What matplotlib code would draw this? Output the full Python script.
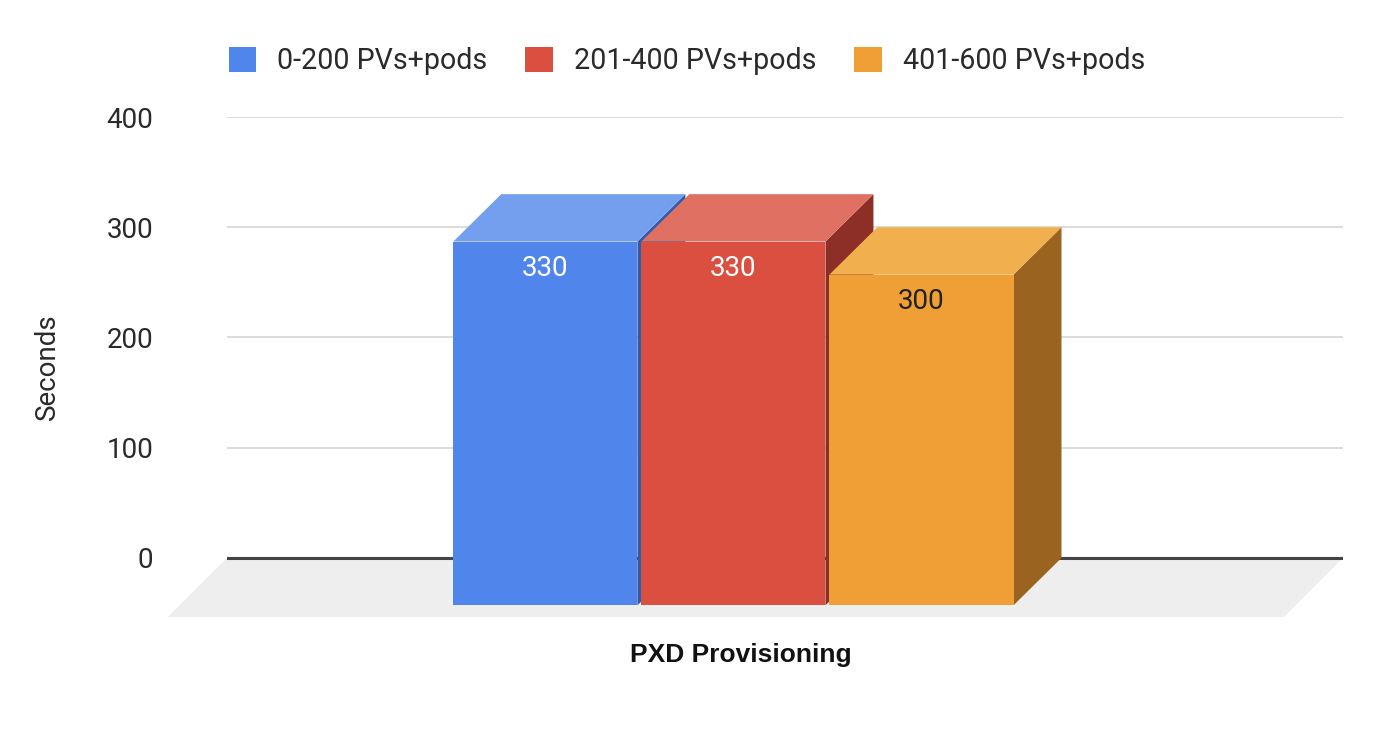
import matplotlib.pyplot as plt
from matplotlib.patches import Polygon, Patch

plt.rcParams['font.family'] = ['Roboto', 'DejaVu Sans']

CATEGORY = 'PXD Provisioning'
SERIES = ['0-200 PVs+pods', '201-400 PVs+pods', '401-600 PVs+pods']
VALUES = [330, 330, 300]
Y_TICKS = [0, 100, 200, 300, 400]

FRONT = ['#5086EC', '#DA4F3F', '#F09F36']
TOP = ['#749EEE', '#E07062', '#F1AF4D']
SIDE = ['#2F5BAA', '#8D2F26', '#9A6420']
LABEL_COLORS = ['white', 'white', '#222222']

# fake 3d geometry (data units)
BAR_W = 0.33
STEP = 0.337
DEPTH_X = 0.086
DEPTH_Y = 43.0
FLOOR_X = 0.106
FLOOR_Y = 53.6
FS = 20


def bar3d(ax, x0, value, i):
    """back face sits on the gridline plane, front face is shifted down-left"""
    fx0, fx1 = x0 - DEPTH_X, x0 - DEPTH_X + BAR_W
    fy0, fy1 = -DEPTH_Y, value - DEPTH_Y
    bx1 = x0 + BAR_W
    side = [(fx1, fy0), (fx1, fy1), (bx1, value), (bx1, 0)]
    top = [(fx0, fy1), (fx1, fy1), (bx1, value), (x0, value)]
    ax.add_patch(Polygon(side, closed=True, facecolor=SIDE[i], edgecolor='none', zorder=3))
    ax.add_patch(Polygon(top, closed=True, facecolor=TOP[i], edgecolor='none', zorder=3))
    ax.bar(fx0, value, bottom=fy0, width=BAR_W, align='edge', color=FRONT[i], zorder=3)
    ax.annotate(str(value), (fx0 + BAR_W / 2, fy1), xytext=(0, -19.5), textcoords='offset points',
                ha='center', va='center', fontsize=FS, color=LABEL_COLORS[i], zorder=5)


def main():
    fig = plt.figure(figsize=(14, 7.3), dpi=100)
    ax = fig.add_axes([227 / 1400, 1 - 617 / 730, 1116 / 1400, 500 / 730])
    ax.set_xlim(-1, 1)
    ax.set_ylim(-FLOOR_Y, 400)

    floor = [(-1, 0), (1, 0), (1 - FLOOR_X, -FLOOR_Y), (-1 - FLOOR_X, -FLOOR_Y)]
    ax.add_patch(Polygon(floor, closed=True, facecolor='#EEEEEE', edgecolor='none',
                         zorder=0, clip_on=False))

    for t in Y_TICKS[1:]:
        ax.axhline(t, color='#D6D6D6', lw=1.2, zorder=1)
    ax.axhline(0, color='#444444', lw=2.2, zorder=2)

    n = len(VALUES)
    for i, v in enumerate(VALUES):
        x0 = (i - n / 2) * STEP - 0.003
        bar3d(ax, x0, v, i)

    ax.set_yticks(Y_TICKS)
    ax.set_yticklabels([str(t) for t in Y_TICKS], fontsize=FS, color='#2a2a2a')
    ax.tick_params(axis='y', length=0, pad=53)
    ax.set_xticks([])
    for s in ax.spines.values():
        s.set_visible(False)

    fig.text(47 / 1400, 1 - 367 / 730, 'Seconds', rotation=90, ha='center', va='center',
             fontsize=FS, color='#2a2a2a')
    fig.text(741 / 1400, 1 - 655 / 730, CATEGORY, ha='center', va='center',
             fontsize=19, fontweight='bold', color='#111111',
             family=['Liberation Sans', 'DejaVu Sans'])

    handles = [Patch(facecolor=FRONT[i], edgecolor='none') for i in range(n)]
    fig.legend(handles, SERIES, loc='center', bbox_to_anchor=(687 / 1400, 1 - 61 / 730),
               ncol=3, frameon=False, fontsize=20.6, handlelength=0.95, handleheight=0.95,
               handletextpad=0.75, columnspacing=1.33, labelcolor='#2a2a2a')

    fig.savefig('out.png', dpi=100)


if __name__ == "__main__":
    main()
